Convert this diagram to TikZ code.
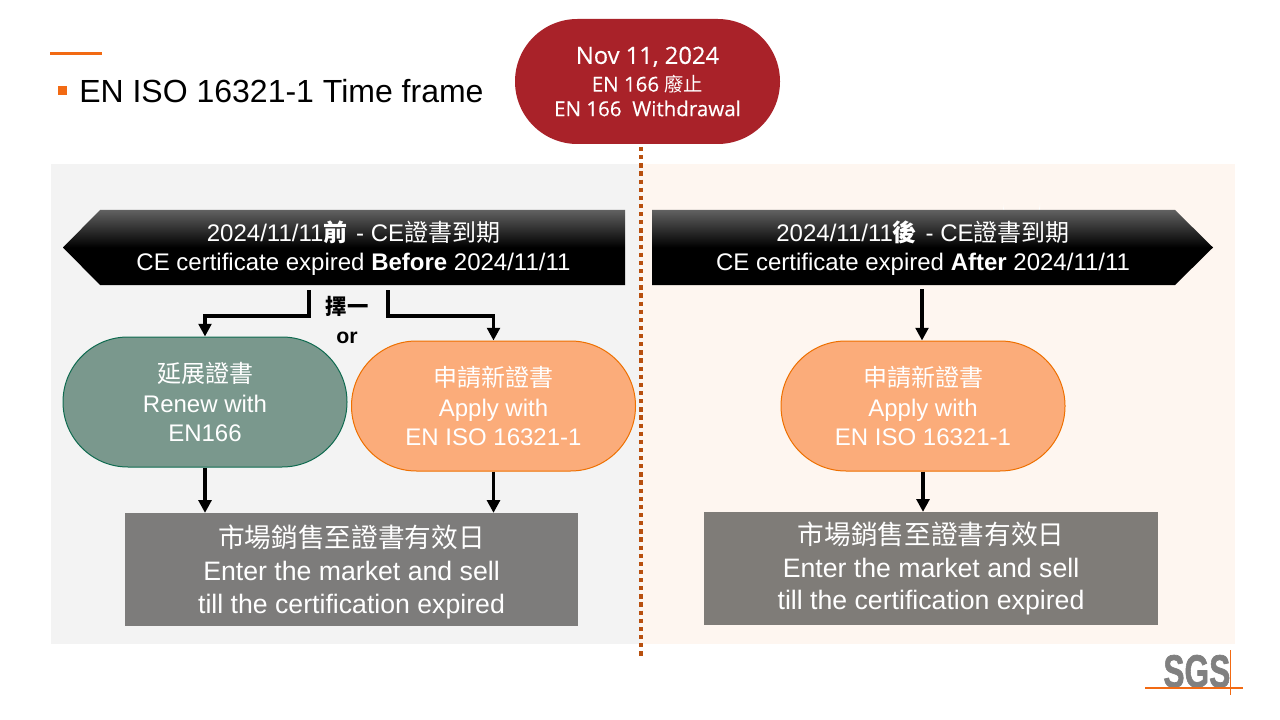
\documentclass[tikz,border=0pt]{standalone}
\usepackage{fontspec}
\setmainfont{Liberation Sans}
\newfontfamily\cjk{Noto Sans CJK TC}
\newfontfamily\uifont[FakeBold=0.4]{Open Sans}
\newfontfamily\logofont[FakeBold=1.6]{Liberation Sans Bold}
\usetikzlibrary{arrows.meta,calc}
\definecolor{bgL}{HTML}{F3F3F3}
\definecolor{bgR}{HTML}{FEF6F0}
\definecolor{sgsorange}{HTML}{F26A13}
\definecolor{dotc}{HTML}{B8500F}
\definecolor{redc}{HTML}{A92229}
\definecolor{greenc}{HTML}{7A988D}
\definecolor{greenl}{HTML}{0F6B50}
\definecolor{orangec}{HTML}{FBAC7A}
\definecolor{orangel}{HTML}{EE7000}
\definecolor{grayc}{HTML}{7D7C7B}
\definecolor{grayr}{HTML}{7F7C78}
\definecolor{sgsgray}{HTML}{808080}
\newcommand{\fs}[2]{\fontsize{#1pt}{#2pt}\selectfont}
\tikzset{
  x=0.75pt,y=-0.75pt,
  pill/.style={rectangle,rounded corners=48.7pt,minimum width=213pt,minimum height=97.5pt,inner sep=0pt,line width=0.75pt,text=white,align=center,font=\fs{18}{21.8}},
  greenpill/.style={pill,fill=greenc,draw=greenl},
  orangepill/.style={pill,fill=orangec,draw=orangel},
  datepill/.style={rectangle,rounded corners=46.8pt,minimum width=198.75pt,minimum height=93.75pt,inner sep=0pt,fill=redc,text=white,align=center},
  marketbox/.style={rectangle,minimum width=340pt,minimum height=84.5pt,inner sep=0pt,text=white,align=center,font=\fs{20}{24.5}},
  headtext/.style={text=white,align=center,inner sep=0pt,font=\fs{18}{22}},
  flow/.style={line width=2.4pt,black,-{Triangle[width=9.5pt,length=9.5pt]}},
  banner/.style={top color=black!62,bottom color=black,middle color=black},
}
\begin{document}
\begin{tikzpicture}
\useasboundingbox (0,0) rectangle (1280,720);
\fill[white] (0,0) rectangle (1280,720);
% panels
\fill[bgL] (51,164) rectangle (640,644);
\fill[bgR] (640,164) rectangle (1235,644);
\fill[white] (1003,212) -- (1003,203) arc[start angle=180,end angle=0,x radius=18.5,y radius=18.5] -- (1040,212) -- cycle;
% title
\fill[sgsorange] (50,52) rectangle (102,55.5);
\fill[sgsorange] (58,86) rectangle (67,95);
\node[anchor=west,inner sep=0pt,font=\fs{24}{28}] (title) at (79,91) {EN ISO 16321-1 Time frame};
% divider
\draw[dotc,line width=2.4pt,dash pattern=on 3.2pt off 2.9pt] (641,147) -- (641,656);
% red date
\node[datepill] (date) at (647.5,81.5) {\uifont\fs{17.8}{18}Nov 11, 2024\\[5.25pt]\uifont\fs{15.4}{18}EN 166 {\cjk\fs{14.5}{18}廢止}\\[4.5pt]\uifont\fs{15.4}{18}EN 166~~Withdrawal};
% banners
\shade[banner] (100,210) -- (625,210) -- (625,285) -- (100,285) -- (63,247.5) -- cycle;
\shade[banner] (652,210) -- (1175,210) -- (1213,247.5) -- (1175,285) -- (652,285) -- cycle;
\node[headtext] (hL) at (353.5,248) {2024/11/11{\cjk\bfseries 前}\kern1.5pt{} - CE{\cjk 證書到期}\\CE certificate expired \textbf{Before} 2024/11/11};
\node[headtext] (hR) at (923,248) {2024/11/11{\cjk\bfseries 後}\kern1.5pt{} - CE{\cjk 證書到期}\\CE certificate expired \textbf{After} 2024/11/11};
% pills
\node[greenpill] (renew) at (205,402) {{\cjk 延展證書}\\Renew with\\EN166};
\node[orangepill] (applyL) at (493.5,406) {{\cjk 申請新證書}\\Apply with\\EN ISO 16321-1};
\node[orangepill] (applyR) at (923,406) {{\cjk 申請新證書}\\Apply with\\EN ISO 16321-1};
% boxes
\node[marketbox,fill=grayc] (marketL) at (351.5,569.5) {\rule{0pt}{20.6pt}{\cjk 市場銷售至證書有效日}\\Enter the market and sell\\till the certification expired};
\node[marketbox,fill=grayr] (marketR) at (931,568.5) {{\cjk 市場銷售至證書有效日}\\Enter the market and sell\\till the certification expired};
% choice label
\node[inner sep=0pt,align=center,font=\fs{16}{22}] (choice) at (347,320) {{\cjk\bfseries 擇一}\\\textbf{or}};
% connectors
\coordinate (startL) at (309,290);
\coordinate (startM) at (388,290);
\coordinate (startR) at (922,289);
\coordinate (bendL) at (205,316);
\coordinate (bendM) at (493.5,316);
\draw[flow] (startL) |- (bendL) -- (renew.north);
\draw[flow] (startM) |- (bendM) -- (applyL.north);
\draw[flow] (startR) -- (startR |- applyR.north);
\draw[flow] (renew.south) -- (renew.south |- marketL.north);
\draw[flow] (applyL.south) -- (applyL.south |- marketL.north);
\draw[flow] (applyR.south) -- (applyR.south |- marketR.north);
% logo
\node[inner sep=0pt,text=sgsgray,xscale=0.72,yscale=1.05,font=\logofont\fs{33}{33},anchor=south east] (sgs) at (1230.5,688) {SGS};
\draw[sgsorange,line width=1.2pt] (1145,688) -- (1243,688);
\draw[sgsorange,line width=1.2pt] (1230.5,650) -- (1230.5,695);
\end{tikzpicture}
\end{document}
